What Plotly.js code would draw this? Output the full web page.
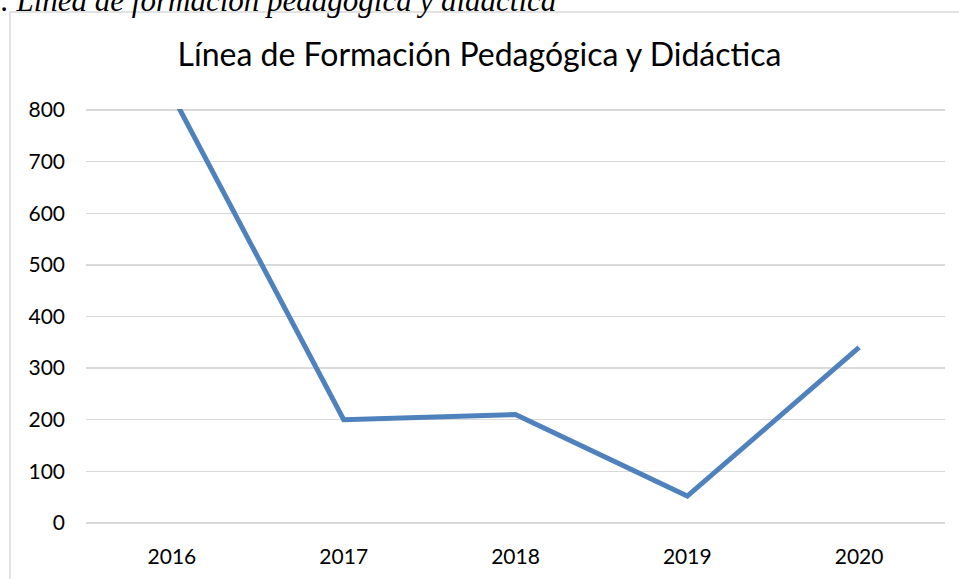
<!DOCTYPE html>
<html>
<head>
<meta charset="utf-8">
<script src="https://cdn.plot.ly/plotly-3.0.1.min.js"></script>
<style>html,body{margin:0;padding:0;background:#fff;}#chart{width:959px;height:579px;}</style>
</head>
<body>
<div id="chart"></div>
<script>
const years = ["2016", "2017", "2018", "2019", "2020"];
const values = [830, 200, 210, 52, 340];
const yTicks = [0, 100, 200, 300, 400, 500, 600, 700, 800];
const chartTitle = "Línea de Formación Pedagógica y Didáctica";
const captionText = ". Línea de formación pedagógica y didáctica";

const W = 959, H = 579;
const M = {l: 86, r: 14, t: 109, b: 55};
const pw = W - M.l - M.r, ph = H - M.t - M.b;
const px2paperX = p => (p - M.l) / pw;
const px2paperY = p => (H - M.b - p) / ph;

const trace = {
  x: years, y: values, type: 'scatter', mode: 'lines',
  line: {color: '#4F81BD', width: 5, shape: 'linear'},
  hoverinfo: 'x+y'
};

const layout = {
  width: W, height: H,
  margin: M,
  paper_bgcolor: '#ffffff', plot_bgcolor: '#ffffff',
  showlegend: false,
  font: {family: 'Lato, "Open Sans", sans-serif', color: '#000000', size: 21},
  title: {text: chartTitle, x: 0.5, xanchor: 'center', xref: 'container', y: 1 - 55 / H, yanchor: 'middle',
          font: {family: 'Lato, "Open Sans", sans-serif', size: 32, color: '#000000'}},
  xaxis: {type: 'category', range: [-0.5, 4.5], showgrid: false, zeroline: false, showline: false,
          ticks: '', tickfont: {size: 21, color: '#000'}, ticklabelstandoff: 18, fixedrange: true},
  yaxis: {range: [-2, 802], tickvals: yTicks, ticktext: yTicks.map(String), showgrid: true,
          gridcolor: '#D9D9D9', gridwidth: 1.3, zeroline: true, zerolinecolor: '#D9D9D9', zerolinewidth: 1.3,
          showline: false, ticks: '',
          tickfont: {size: 21, color: '#000'}, ticklabelstandoff: 20, fixedrange: true},
  shapes: [{
    type: 'rect', xref: 'paper', yref: 'paper',
    x0: px2paperX(10), x1: px2paperX(W + 20), y0: px2paperY(H + 20), y1: px2paperY(12),
    line: {color: '#D9D9D9', width: 1.5}, fillcolor: 'rgba(0,0,0,0)', layer: 'below'
  }],
  annotations: [{
    text: captionText, xref: 'paper', yref: 'paper', showarrow: false,
    x: px2paperX(-1), xanchor: 'left', y: px2paperY(20), yanchor: 'bottom',
    font: {family: '"Liberation Serif", "Times New Roman", serif', size: 31, color: '#000', style: 'italic'}
  }]
};

Plotly.newPlot('chart', [trace], layout, {displayModeBar: false, staticPlot: true});
</script>
</body>
</html>
